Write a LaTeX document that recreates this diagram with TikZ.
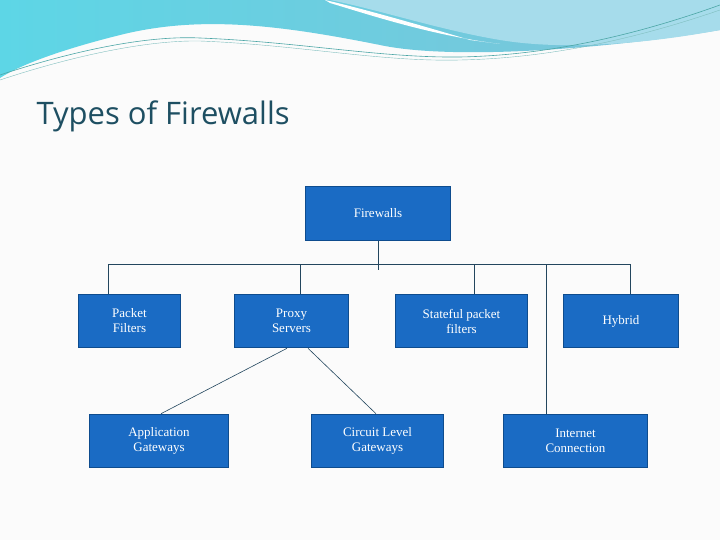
\documentclass[tikz,border=0pt]{standalone}
\usepackage{fontspec}
\setmainfont{Liberation Serif}
\newfontfamily\titlefont{Open Sans}
\begin{document}
\begin{tikzpicture}[x=1pt,y=-1pt,
  box/.style={draw=boxborder,line width=1.6pt,fill=boxfill,text=white,font=\fontsize{13}{15}\selectfont,align=center,inner sep=0pt},
  conn/.style={draw=linec,line width=0.6pt}]
\definecolor{boxfill}{HTML}{1A6BC4}
\definecolor{boxborder}{HTML}{0E4C8E}
\definecolor{linec}{HTML}{23465E}
\definecolor{titlec}{HTML}{1E4F62}
\definecolor{wave1}{HTML}{7EC3D8}
\definecolor{wave2}{HTML}{A6DCEB}
\definecolor{wave3}{HTML}{5DD6E6}
\useasboundingbox (0,0) rectangle (720,540);
\fill[white!97!gray] (0,0) rectangle (720,540);
% top waves
\shade[left color=wave3,right color=wave1] (0,0) -- (720,0) -- (720,30) .. controls (600,50) and (450,60) .. (380,45) .. controls (280,25) and (200,15) .. (120,35) .. controls (60,50) and (20,65) .. (0,78) -- cycle;
\fill[wave2] (330,0) -- (720,0) -- (720,30) .. controls (640,45) and (560,50) .. (500,40) .. controls (440,30) and (380,10) .. (330,0) -- cycle;
\fill[white] (325,0) .. controls (360,8) and (420,25) .. (470,40) -- (500,44) .. controls (430,35) and (370,15) .. (330,3) -- cycle;
\draw[teal!70,line width=0.6pt] (0,75) .. controls (60,55) and (140,35) .. (200,38) .. controls (300,42) and (380,58) .. (460,57) .. controls (560,55) and (650,30) .. (720,5);
\draw[teal!50,line width=0.4pt] (0,80) .. controls (60,60) and (140,40) .. (200,41) .. controls (300,45) and (380,62) .. (460,60) .. controls (560,58) and (650,34) .. (720,10);
\node[font=\titlefont\fontsize{31}{36}\selectfont,text=titlec,anchor=west] (title) at (33,116) {Types of Firewalls};
% boxes
\node[box,minimum width=145,minimum height=54] (fw) at (378,213.5) {Firewalls};
\node[box,minimum width=102,minimum height=53] (pf) at (129.5,321) {Packet\\Filters};
\node[box,minimum width=114,minimum height=53] (ps) at (291.5,321) {Proxy\\Servers};
\node[box,minimum width=132,minimum height=53] (sp) at (461.5,321) {Stateful packet\\filters};
\node[box,minimum width=115,minimum height=53] (hy) at (621,321) {Hybrid};
\node[box,minimum width=139,minimum height=53] (ag) at (159,441) {Application\\Gateways};
\node[box,minimum width=132,minimum height=53] (cl) at (377.5,441) {Circuit Level\\Gateways};
\node[box,minimum width=144,minimum height=53] (ic) at (575.5,441) {Internet\\Connection};
% connectors
\coordinate (bl) at (108,264);
\coordinate (br) at (630,264);
\coordinate (stub) at (378,270);
\draw[conn] (fw.south) -- (stub);
\draw[conn] (bl) -- (br);
\draw[conn] (bl) -- (pf.north -| bl);
\draw[conn] (300,264) -- (ps.north -| 300,0);
\draw[conn] (474,264) -- (sp.north -| 474,0);
\draw[conn] (br) -- (hy.north -| br);
\draw[conn] (546,264) -- (ic.north -| 546,0);
\draw[conn] (ps.south -| 287,0) -- (ag.north -| 161,0);
\draw[conn] (ps.south -| 308,0) -- (cl.north -| 376,0);
\end{tikzpicture}
\end{document}
